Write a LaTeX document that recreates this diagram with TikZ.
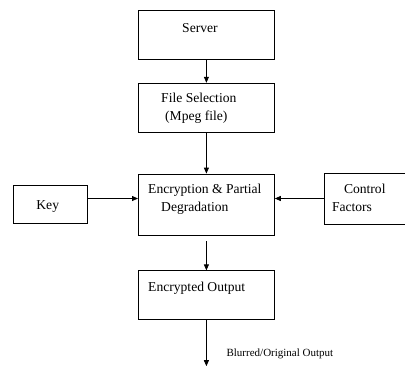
\documentclass[tikz,border=0pt]{standalone}
\usepackage{fontspec}
\setmainfont{Liberation Serif}
\usepackage{tikz}
\usetikzlibrary{positioning, arrows.meta}

\begin{document}
\begin{tikzpicture}[x=1pt, y=-1pt, node distance=30pt, >={Triangle[length=6pt,width=5pt]},
    box/.style={draw, line width=0.8pt, inner sep=0pt},
    txt/.style={inner sep=0pt, align=left, anchor=base west, font=\fontsize{13.6}{18}\selectfont},
    note/.style={inner sep=0pt, anchor=base west, font=\fontsize{11}{13}\selectfont}]
                \useasboundingbox (0,0) rectangle (405,365);

                \node[box, minimum width=136pt, minimum height=49pt, anchor=north west] (server) at (138,10) {};
                \node[box, minimum width=136pt, minimum height=49pt] (fsel) [below=23pt of server] {};
                \node[box, minimum width=136pt, minimum height=61pt] (enc) [below=41pt of fsel] {};
                \node[box, minimum width=136pt, minimum height=49pt] (eout) [below=35pt of enc] {};
                \node[box, minimum width=74pt, minimum height=38pt] (key) [left=50pt of enc] {};
                \node[box, minimum width=81pt, minimum height=51pt, yshift=6pt] (ctrl) [right=49pt of enc] {};
                \coordinate[below=46pt of eout.south] (out);

                % texts (base is the last line)
                \node[txt] (tserver) at ([shift={(44,22)}]server.north west) {Server};
                \node[txt] (tfsel) at ([shift={(23,38)}]fsel.north west) {File Selection\\\hspace*{4pt}(Mpeg file)};
                \node[txt] (tenc) at ([shift={(10,38)}]enc.north west) {Encryption \& Partial\\\hspace*{13pt}Degradation};
                \node[txt] (tkey) at ([shift={(23,24)}]key.north west) {Key};
                \node[txt] (tctrl) at ([shift={(8,39)}]ctrl.north west) {\hspace*{12pt}Control\\Factors};
                \node[txt] (teout) at ([shift={(10,21)}]eout.north west) {Encrypted Output};
                \node[note] (tout) at ([shift={(20,36)}]eout.south) {Blurred/Original Output};

                \draw[->, line width=0.8pt]
                (server) -- (fsel);
                \draw[->, line width=0.8pt]
                (fsel) -- (enc);
                \draw[->, line width=0.8pt, shorten <=6pt]
                (enc) -- (eout);
                \draw[->, line width=0.8pt]
                (eout) -- (out);
                \draw[->, line width=0.8pt]
                (key.east |- ctrl.west) -- (enc.west |- ctrl.west);
                \draw[->, line width=0.8pt]
                (ctrl.west) -- (ctrl.west -| enc.east);
            \end{tikzpicture}
\end{document}
